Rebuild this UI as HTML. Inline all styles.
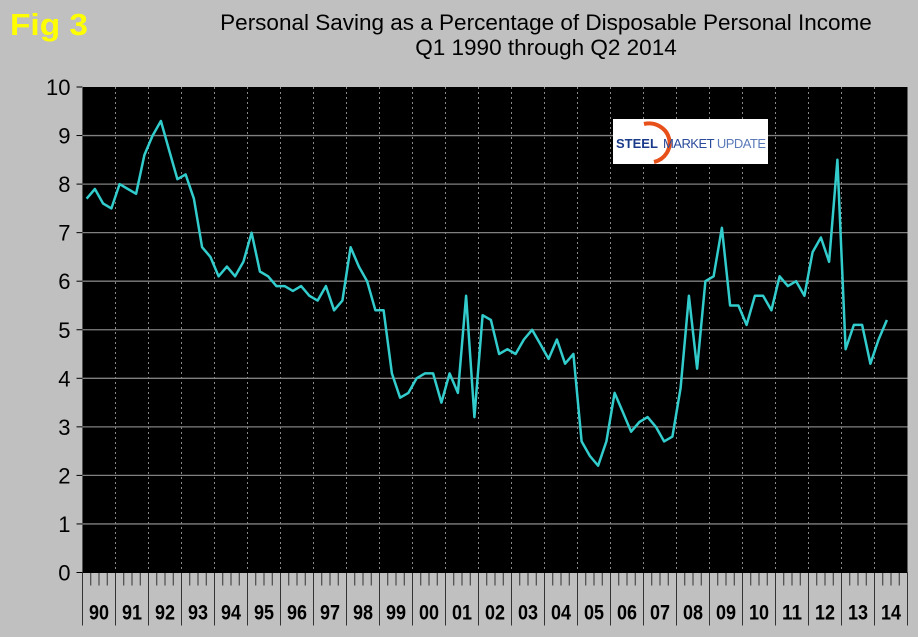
<!DOCTYPE html>
<html><head><meta charset="utf-8"><style>
body{margin:0;background:#c0c0c0;}
svg{display:block;font-family:"Liberation Sans",Arial,sans-serif;}
</style></head><body>
<svg id="chart" width="918" height="637" viewBox="0 0 918 637" xmlns="http://www.w3.org/2000/svg">
<rect x="0" y="0" width="918" height="637" fill="#c0c0c0"/>
<text x="10" y="35" font-size="31" font-weight="bold" fill="#ffff00" textLength="78" lengthAdjust="spacingAndGlyphs">Fig 3</text>
<text x="546" y="30" font-size="22.5" text-anchor="middle" fill="#000">Personal Saving as a Percentage of Disposable Personal Income</text>
<text x="546" y="55" font-size="22.5" text-anchor="middle" fill="#000">Q1 1990 through Q2 2014</text>
<rect x="82.5" y="87" width="825" height="485.5" fill="#000"/>
<g id="grid"></g>
<g id="yaxis"></g>
<g id="xaxis"></g>
<g id="series"></g>
<g>
<rect x="613" y="119" width="155" height="45" fill="#fff"/>
<path d="M644,124 A20,19 0 1,1 654,162" fill="none" stroke="#e8501a" stroke-width="4"/>
<text x="616" y="148" font-size="13" font-weight="bold" fill="#1a3a8a">STEEL</text>
<text x="663" y="148" font-size="13" fill="#2a4a9a" textLength="103">MARKET <tspan fill="#5a7ab8">UPDATE</tspan></text>
</g>
</svg>
<script>
const yTicks=[0,1,2,3,4,5,6,7,8,9,10];
const yearLabels=["90","91","92","93","94","95","96","97","98","99","00","01","02","03","04","05","06","07","08","09","10","11","12","13","14"];
const savingRate=[7.7,7.9,7.6,7.5,8.0,7.9,7.8,8.6,9.0,9.3,8.7,8.1,8.2,7.7,6.7,6.5,6.1,6.3,6.1,6.4,7.0,6.2,6.1,5.9,5.9,5.8,5.9,5.7,5.6,5.9,5.4,5.6,6.7,6.3,6.0,5.4,5.4,4.1,3.6,3.7,4.0,4.1,4.1,3.5,4.1,3.7,5.7,3.2,5.3,5.2,4.5,4.6,4.5,4.8,5.0,4.7,4.4,4.8,4.3,4.5,2.7,2.4,2.2,2.7,3.7,3.3,2.9,3.1,3.2,3.0,2.7,2.8,3.8,5.7,4.2,6.0,6.1,7.1,5.5,5.5,5.1,5.7,5.7,5.4,6.1,5.9,6.0,5.7,6.6,6.9,6.4,8.5,4.6,5.1,5.1,4.3,4.8,5.2];
const NS="http://www.w3.org/2000/svg";
const L=82.5,R=907.5,T=87,B=572.5;
const yS=v=>B-(v/10)*(B-T);
const slot=(R-L)/100;
const xQ=i=>L+slot*(i+0.5);
function mk(tag,attrs,parent){const e=document.createElementNS(NS,tag);for(const k in attrs)e.setAttribute(k,attrs[k]);parent.appendChild(e);return e;}
const grid=document.getElementById('grid'),ya=document.getElementById('yaxis'),xa=document.getElementById('xaxis'),ser=document.getElementById('series');
yTicks.forEach(v=>{
  const y=yS(v);
  if(v>0&&v<10){const g=mk('line',{x1:L,x2:R,y1:y,y2:y,stroke:'#808080','stroke-width':1.3},grid);
  
  }
  mk('line',{x1:L-6,x2:L,y1:y,y2:y,stroke:'#000'},ya);
  const t=mk('text',{x:L-12,y:y+8,'font-size':22,'text-anchor':'end',fill:'#000'},ya);
  t.textContent=v;
  
  
});
mk('line',{x1:L,x2:L,y1:T,y2:B,stroke:'#555'},ya);
yearLabels.forEach((lab,k)=>{
  const x0=L+slot*4*k;
  if(k>0){const g=mk('line',{x1:x0,x2:x0,y1:T,y2:B,stroke:'#888','stroke-dasharray':'2,3'},grid);
  
  }
  mk('line',{x1:x0,x2:x0,y1:B,y2:B+53,stroke:'#333'},xa);
  for(let q=1;q<4;q++){const xx=x0+slot*q;mk('line',{x1:xx,x2:xx,y1:B,y2:B+13,stroke:'#333'},xa);}
  const t=mk('text',{x:x0+slot*2,y:B+47,'font-size':21,'font-weight':'bold','text-anchor':'middle',fill:'#000',textLength:20,lengthAdjust:'spacingAndGlyphs'},xa);
  t.textContent=lab;
  
  
});
mk('line',{x1:R,x2:R,y1:B,y2:B+53,stroke:'#333'},xa);
mk('line',{x1:L,x2:R,y1:B,y2:B,stroke:'#000'},xa);
const pts=savingRate.map((v,i)=>xQ(i).toFixed(1)+','+yS(v).toFixed(1)).join(' ');
const pl=mk('polyline',{points:pts,fill:'none',stroke:'#33cccc','stroke-width':2.5,'stroke-linejoin':'round'},ser);


</script>
</body></html>
